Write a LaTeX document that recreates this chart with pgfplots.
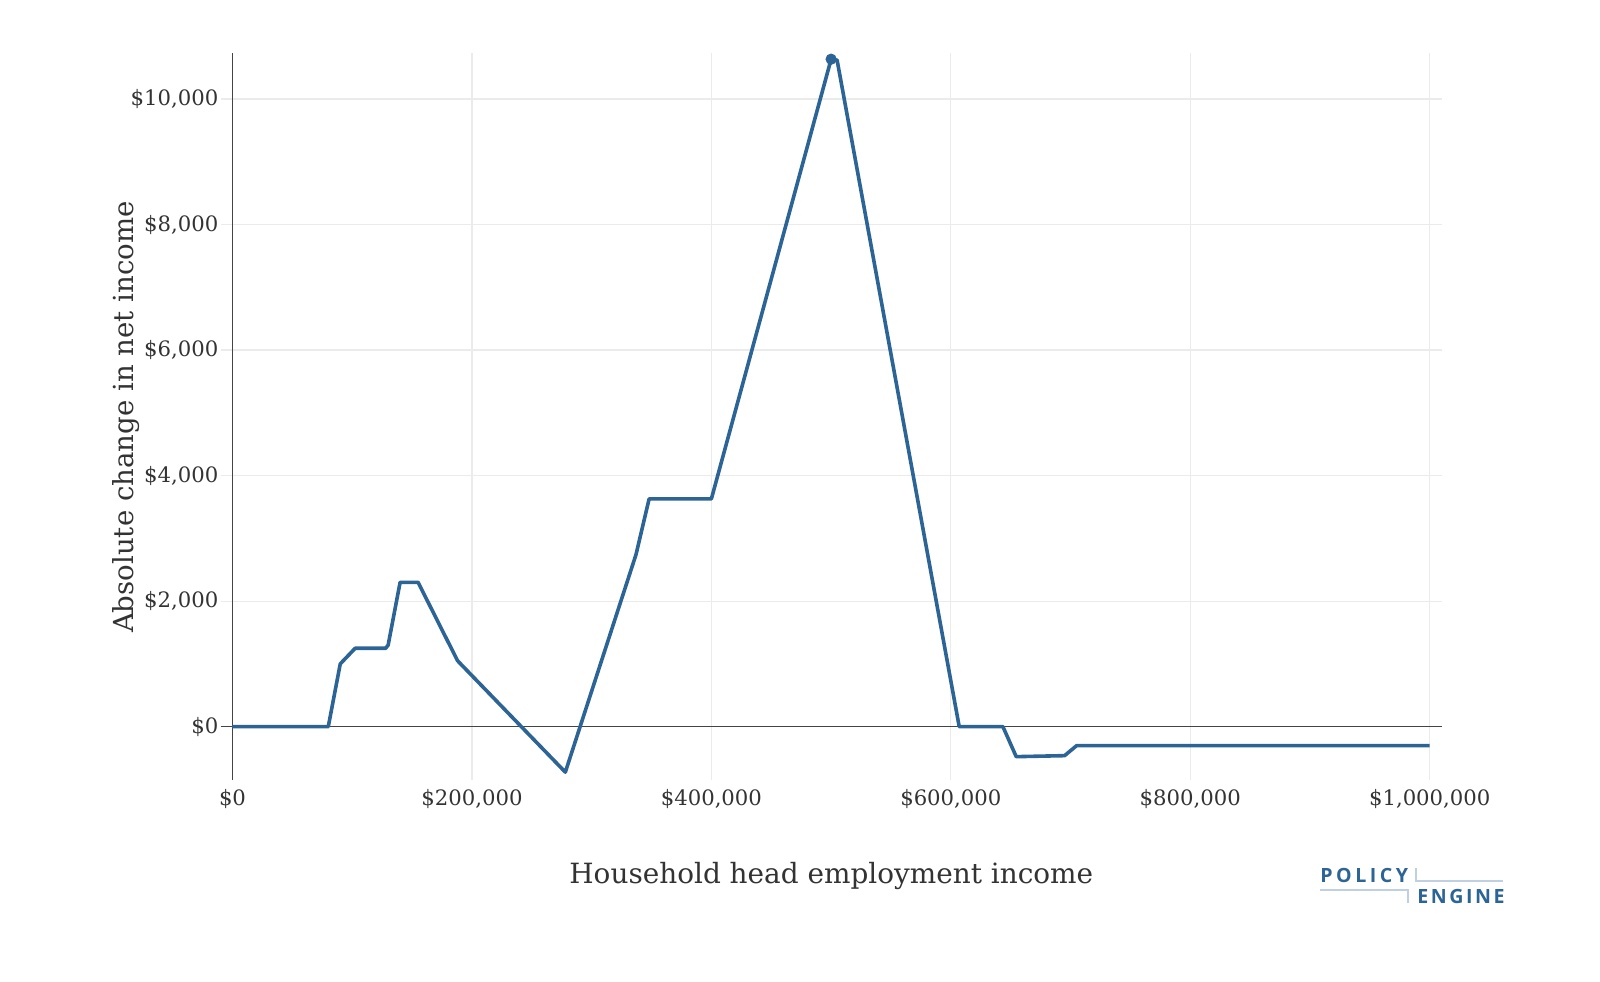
\documentclass[border=0pt]{standalone}
\usepackage{pgfplots}
\pgfplotsset{compat=1.18}
\usepackage{fontspec}
\setmainfont{DejaVu Serif}
\newfontfamily\logofont[LetterSpace=18]{Open Sans}
\newfontfamily\logofontb[LetterSpace=13]{Open Sans}
\definecolor{peblue}{HTML}{2C6496}
\definecolor{gridgray}{HTML}{EBEBEB}
\definecolor{axgray}{HTML}{444444}
\definecolor{txtgray}{HTML}{333333}
\definecolor{logolight}{HTML}{BFD0E2}
\begin{document}
\begin{tikzpicture}
\path[use as bounding box] (-116.25pt,-100.5pt) rectangle (683.75pt,390pt);
\begin{axis}[
  at={(0,0)}, anchor=south west,
  scale only axis, width=604.6pt, height=363.7pt,
  xmin=0, xmax=1010000, ymin=-850, ymax=10740,
  axis x line*=bottom, axis y line*=left,
  x axis line style={draw=none},
  y axis line style={draw=axgray, line width=0.6pt},
  xtick={0,200000,400000,600000,800000,1000000},
  xticklabels={{\$0},{\$200,000},{\$400,000},{\$600,000},{\$800,000},{\$1,000,000}},
  ytick={0,2000,4000,6000,8000,10000},
  yticklabels={{\$0},{\$2,000},{\$4,000},{\$6,000},{\$8,000},{\$10,000}},
  scaled ticks=false,
  tick align=outside, major tick length=5.9pt,
  xtick style={draw=none},
  ytick style={draw=gridgray, line width=0.6pt},
  grid=major,
  major grid style={draw=gridgray, line width=0.6pt},
  ticklabel style={font=\fontsize{10.6}{12}\selectfont, text=txtgray},
  yticklabel style={anchor=east, inner sep=0pt, xshift=-1pt},
  xticklabel style={anchor=north, inner sep=0pt, yshift=1.3pt},
  /pgf/number format/assume math mode=true,
  clip=false,
]
\draw[axgray, line width=0.6pt] ([xshift=-5.9pt]axis cs:0,0) -- (axis cs:1010000,0);
\addplot[peblue, line width=1.8pt, line join=round, mark=none] coordinates {
(0,0) (80000,0) (90000,1000) (102500,1250) (128000,1250) (130000,1300)
(140000,2300) (155000,2300) (188000,1050) (278000,-725) (337000,2740)
(348000,3630) (400000,3630) (500000,10635) (505000,10620) (607000,0)
(643500,0) (654600,-478) (695000,-462) (705000,-303) (1000000,-303)
};
\addplot[peblue, only marks, mark=*, mark size=2.6pt] coordinates {(500000,10635)};
\end{axis}
\node[font=\fontsize{13.95}{16}\selectfont, text=txtgray, anchor=base] at (299.4pt,-51.5pt) {Household head employment income};
\node[font=\fontsize{13.8}{16}\selectfont, text=txtgray, anchor=base, rotate=90] at (-49.6pt,181.5pt) {Absolute change in net income};
% logo
\draw[logolight, line width=1pt] (543.75pt,-55pt) -- (587.5pt,-55pt) -- (587.5pt,-61.5pt);
\draw[logolight, line width=1pt] (591.5pt,-44pt) -- (591.5pt,-50.5pt) -- (635.1pt,-50.5pt);
\node[font=\logofont\bfseries\fontsize{9.8}{11}\selectfont, text=peblue, anchor=base west, inner sep=0pt] at (543.75pt,-51pt) {POLICY};
\node[font=\logofontb\bfseries\fontsize{9.8}{11}\selectfont, text=peblue, anchor=base west, inner sep=0pt] at (592.2pt,-61.5pt) {ENGINE};
\end{tikzpicture}
\end{document}
